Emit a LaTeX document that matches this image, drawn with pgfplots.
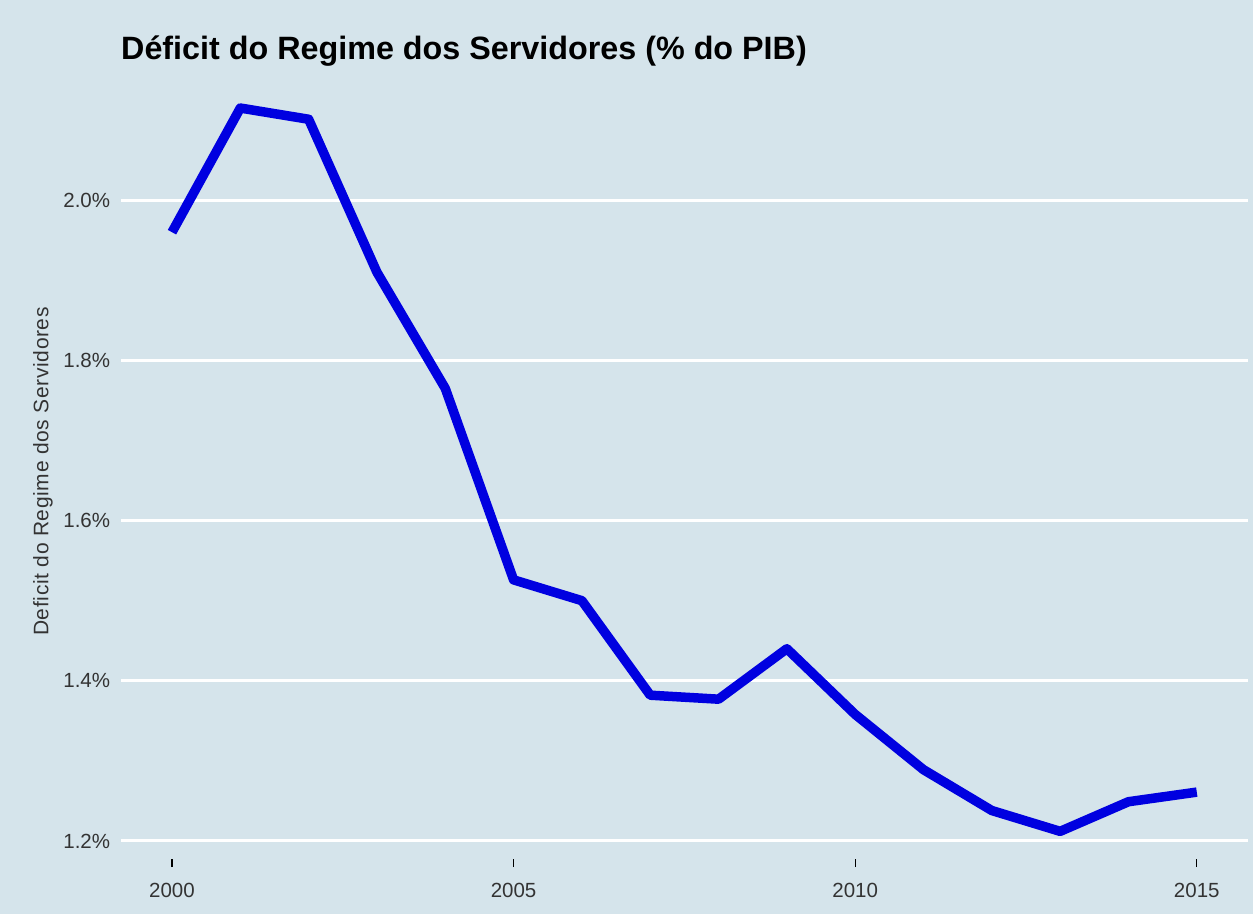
\documentclass[border=0pt]{standalone}
\usepackage{pgfplots}
\pgfplotsset{compat=1.18}
\usepackage{fontspec}
\setmainfont{Liberation Sans}
\definecolor{bg}{HTML}{D5E4EB}
\definecolor{lineblue}{HTML}{0000E0}
\definecolor{txt}{HTML}{333333}
\begin{document}
\begin{tikzpicture}
\path[use as bounding box, fill=bg] (0,0) rectangle (1253bp,914bp);
\begin{axis}[
  at={(120.75bp,55bp)}, anchor=south west,
  scale only axis,
  width=1127.25bp, height=787bp,
  xmin=1999.25, xmax=2015.75,
  ymin=1.1775, ymax=2.16,
  axis line style={draw=none},
  xtick={2000,2005,2010,2015},
  xticklabels={2000,2005,2010,2015},
  ytick={1.2,1.4,1.6,1.8,2.0},
  yticklabels={1.2\%,1.4\%,1.6\%,1.8\%,2.0\%},
  xtick pos=bottom, ytick pos=left,
  tick align=outside,
  major tick length=8bp,
  xtick style={draw=black, line width=1.3bp},
  ytick style={draw=none},
  ymajorgrids,
  major grid style={white, line width=3bp},
  tick label style={font=\fontsize{20.5bp}{24bp}\selectfont, text=txt},
  xticklabel style={anchor=north, inner sep=0pt, yshift=-16bp},
  yticklabel style={anchor=east, inner sep=0pt, xshift=-2.5bp},
  clip=false,
]
\addplot[lineblue, line width=9.5bp, line join=round, line cap=butt] coordinates {
 (2000,1.960) (2001,2.115) (2002,2.101) (2003,1.910) (2004,1.765)
 (2005,1.526) (2006,1.500) (2007,1.382) (2008,1.377) (2009,1.440)
 (2010,1.358) (2011,1.289) (2012,1.238) (2013,1.212) (2014,1.249)
 (2015,1.261)
};
\end{axis}
\node[anchor=base west, inner sep=0pt, font=\fontsize{32.3bp}{38bp}\selectfont\bfseries] at (121bp,854bp) {Déficit do Regime dos Servidores (\% do PIB)};
\node[rotate=90, anchor=center, inner sep=0pt, text=txt, font=\fontsize{21bp}{25bp}\selectfont\addfontfeature{LetterSpace=3}] at (43bp,442.5bp) {Deficit do Regime dos Servidores};
\end{tikzpicture}
\end{document}
